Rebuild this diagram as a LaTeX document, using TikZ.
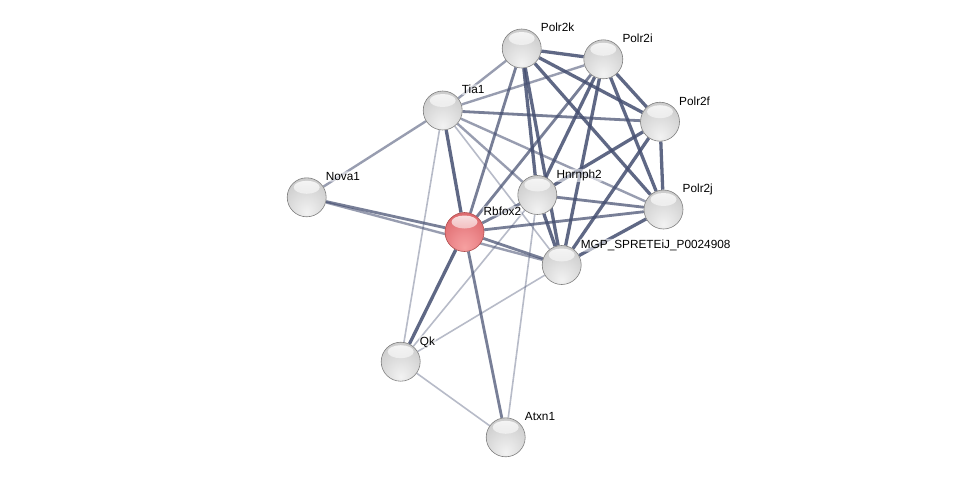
\documentclass[tikz,border=0pt]{standalone}
\usepackage{fontspec}
\setmainfont{Liberation Sans}
\usetikzlibrary{fadings,backgrounds}

\pgfdeclareradialshading{graysph}{\pgfpoint{0bp}{-20bp}}{%
  color(0bp)=(white!95!black);
  color(14bp)=(white!89!black);
  color(32bp)=(white!81!black);
  color(48bp)=(white!74!black);
  color(60bp)=(white!64!black);
  color(68bp)=(white!54!black);
  color(72bp)=(white!47!black)}
\pgfdeclareradialshading{redsph}{\pgfpoint{0bp}{-20bp}}{%
  color(0bp)=(rgb,255:red,246;green,160;blue,160);
  color(14bp)=(rgb,255:red,238;green,140;blue,143);
  color(32bp)=(rgb,255:red,224;green,110;blue,114);
  color(48bp)=(rgb,255:red,208;green,92;blue,98);
  color(60bp)=(rgb,255:red,188;green,74;blue,80);
  color(68bp)=(rgb,255:red,166;green,58;blue,64);
  color(72bp)=(rgb,255:red,150;green,50;blue,56)}
\tikzfading[name=hlfade, top color=transparent!15, bottom color=transparent!100]
\definecolor{edgec}{RGB}{68,78,112}

\tikzset{
  prot/.style={circle, minimum size=39pt, inner sep=0pt, shade, shading=graysph,
    draw=black!50, line width=0.6pt,
    path picture={\fill[white, path fading=hlfade]
      ([yshift=10pt]path picture bounding box.center) ellipse [x radius=13pt, y radius=6.5pt];}},
  protred/.style={prot, shading=redsph, draw=black!45!red!70!white},
  lab/.style={anchor=base west, inner sep=1pt, fill=white, fill opacity=0.55, text opacity=1,
    rounded corners=2pt, font=\fontsize{11.8}{14}\selectfont, text=black},
  eD/.style={draw=edgec, line width=3.3pt, draw opacity=0.85},
  eM/.style={draw=edgec, line width=2.8pt, draw opacity=0.72},
  eL/.style={draw=edgec, line width=2.4pt, draw opacity=0.55},
  eT/.style={draw=edgec, line width=1.6pt, draw opacity=0.38},
}

\begin{document}
\begin{tikzpicture}[x=1pt, y=-1pt]
\useasboundingbox (0,0) rectangle (975,482);

\node[prot] (k) at (521.7,48.5) {};
\node[prot] (i) at (603.3,59.3) {};
\node[prot] (f) at (660,121.7) {};
\node[prot] (t) at (442.7,110.5) {};
\node[prot] (n) at (306.7,197.3) {};
\node[prot] (h) at (537.3,195) {};
\node[prot] (j) at (663.5,209.5) {};
\node[protred] (r) at (464.5,232) {};
\node[prot] (m) at (561.7,265) {};
\node[prot] (q) at (400.7,361.7) {};
\node[prot] (a) at (505.7,437.3) {};

\node[lab] (lk) at ([xshift=18pt,yshift=16.7pt]k.center) {Polr2k};
\node[lab] (li) at ([xshift=18pt,yshift=16.7pt]i.center) {Polr2i};
\node[lab] (lf) at ([xshift=18pt,yshift=16.7pt]f.center) {Polr2f};
\node[lab] (lt) at ([xshift=18pt,yshift=16.7pt]t.center) {Tia1};
\node[lab] (ln) at ([xshift=18pt,yshift=16.7pt]n.center) {Nova1};
\node[lab] (lh) at ([xshift=18pt,yshift=16.7pt]h.center) {Hnrnph2};
\node[lab] (lj) at ([xshift=18pt,yshift=16.7pt]j.center) {Polr2j};
\node[lab] (lr) at ([xshift=18pt,yshift=16.7pt]r.center) {Rbfox2};
\node[lab] (lm) at ([xshift=18pt,yshift=16.7pt]m.center) {MGP\_SPRETEiJ\_P0024908};
\node[lab] (lq) at ([xshift=18pt,yshift=16.7pt]q.center) {Qk};
\node[lab] (la) at ([xshift=18pt,yshift=16.7pt]a.center) {Atxn1};

\begin{pgfonlayer}{background}
  \fill[white] (0,0) rectangle (975,482);
  % light thin
  \draw[eT] (t) -- (m);
  \draw[eT] (t) -- (q);
  \draw[eT] (q) -- (h);
  \draw[eT] (q) -- (m);
  \draw[eT] (q) -- (a);
  \draw[eT] (a) -- (h);
  % lighter
  \draw[eL] (t) -- (n);
  \draw[eL] (t) -- (k);
  \draw[eL] (t) -- (i);
  \draw[eL] (t) -- (j);
  \draw[eL] (t) -- (h);
  \draw[eL] (n) -- (m);
  % medium
  \draw[eM] (t) -- (f);
  \draw[eM] (j) -- (h);
  \draw[eM] (r) -- (j);
  \draw[eM] (r) -- (m);
  \draw[eM] (r) -- (k);
  \draw[eM] (r) -- (i);
  \draw[eM] (r) -- (a);
  \draw[eM] (r) -- (n);
  \draw[eM] (r) -- (h);
  % dark
  \draw[eD] (k) -- (i);
  \draw[eD] (k) -- (f);
  \draw[eD] (k) -- (j);
  \draw[eD] (i) -- (f);
  \draw[eD] (i) -- (j);
  \draw[eD] (f) -- (j);
  \draw[eD] (f) -- (h);
  \draw[eD] (k) -- (h);
  \draw[eD] (k) -- (m);
  \draw[eD] (i) -- (m);
  \draw[eD] (i) -- (h);
  \draw[eD] (f) -- (m);
  \draw[eD] (j) -- (m);
  \draw[eD] (h) -- (m);
  \draw[eD] (r) -- (q);
  \draw[eD] (r) -- (t);
\end{pgfonlayer}
\end{tikzpicture}
\end{document}
